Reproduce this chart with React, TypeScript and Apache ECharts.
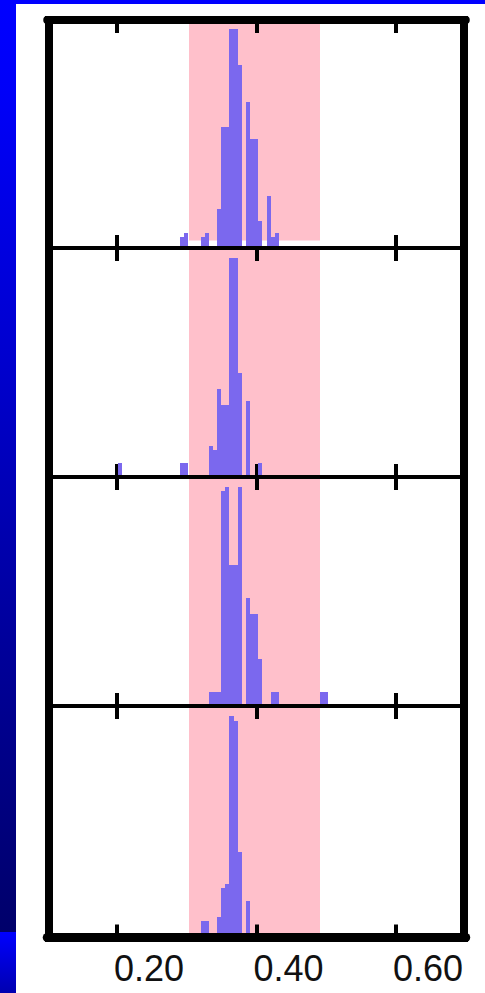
import React, { useEffect, useRef } from "react";
import * as echarts from "echarts";

// ---- axis ----
const X_MIN = 0.1;
const X_MAX = 0.7;
const TICK_VALUES = [0.2, 0.4, 0.6];

// ---- histogram bins (shared bin grid) ----
const BIN_START = 0.2903;
const BIN_WIDTH = 0.00591;

// highlighted (pink) interval on the x axis
const BAND = [0.303, 0.491];
const BAND_FLOOR_TOP_PANEL = 3.4;

// [bin index, relative frequency (% of tallest bin)] for each panel, top to bottom
const PANEL_1: [number, number][] = [
  [0, 5.0], [1, 6.8], [5, 5.0], [6, 6.8], [9, 17.8], [10, 55.3], [11, 55.3],
  [12, 100], [13, 100], [14, 83.6], [16, 66.7], [17, 49.8], [18, 49.8],
  [19, 12.3], [21, 23.7], [22, 5.0], [23, 6.8],
];
const PANEL_2: [number, number][] = [
  [-15, 6.4], [0, 6.4], [1, 6.4], [7, 14.2], [8, 12.3], [9, 40.2], [10, 32.9],
  [11, 32.9], [12, 100], [13, 100], [14, 47.5], [16, 34.7], [19, 6.4],
];
const PANEL_3: [number, number][] = [
  [7, 6.4], [8, 6.4], [9, 6.4], [10, 98.0], [11, 100], [12, 64.2], [13, 64.2],
  [14, 100], [16, 49.2], [17, 41.9], [18, 41.9], [19, 21.3], [22, 6.4],
  [23, 6.4], [34, 6.4], [35, 6.4],
];
const PANEL_4: [number, number][] = [
  [5, 6.3], [6, 6.3], [9, 8.1], [10, 21.3], [11, 23.2], [12, 100], [13, 97.6],
  [14, 37.8], [16, 15.4],
];
const PANELS = [PANEL_1, PANEL_2, PANEL_3, PANEL_4];
const PEAK_VALUE = 100;

// ---- layout / style ----
const W = 485;
const H = 993;
const PANEL_EDGES = [20, 248, 477, 706, 935];
const PEAK_PX = 219;
const GRID_LEFT = 47.25;
const GRID_RIGHT = 19.25;
const BAR_COLOR = "#7B68EE";
const BAND_COLOR = "#FFC0CB";
const LINE_GAP = 2;

export default function App() {
  const ref = useRef<HTMLDivElement>(null);

  useEffect(() => {
    if (!ref.current) return;
    const chart = echarts.init(ref.current, undefined, { renderer: "svg" });

    const grids: any[] = [];
    const xAxes: any[] = [];
    const yAxes: any[] = [];
    const series: any[] = [];

    PANELS.forEach((panel, i) => {
      const top = PANEL_EDGES[i];
      const height = PANEL_EDGES[i + 1] - PANEL_EDGES[i];
      const yMax = (PEAK_VALUE * height) / PEAK_PX;
      const isLast = i === PANELS.length - 1;
      grids.push({ left: GRID_LEFT, right: GRID_RIGHT, top, height, containLabel: false });

      const common = {
        type: "value",
        gridIndex: i,
        min: X_MIN,
        max: X_MAX,
        z: 2,
        splitLine: { show: false },
        axisTick: {
          show: true,
          inside: true,
          length: 13,
          customValues: TICK_VALUES,
          lineStyle: { color: "#000", width: 4 },
        },
      };
      // bottom axis
      xAxes.push({
        ...common,
        position: "bottom",
        offset: isLast ? 2.5 : 0,
        axisLine: { show: true, onZero: false, lineStyle: { color: "#000", width: isLast ? 9 : 4 } },
        axisLabel: isLast
          ? {
              show: true,
              customValues: TICK_VALUES,
              formatter: (v: number) => v.toFixed(2),
              align: "center",
              padding: [0, 0, 0, 64],
              margin: 13,
              fontSize: 36,
              fontFamily: "'Liberation Sans', Arial, sans-serif",
              color: "#111",
            }
          : { show: false },
      });
      // top axis
      xAxes.push({
        ...common,
        position: "top",
        axisLine: { show: true, onZero: false, lineStyle: { color: "#000", width: i === 0 ? 8 : 4 } },
        axisLabel: { show: false },
      });
      yAxes.push({ type: "value", gridIndex: i, min: 0, max: yMax, show: false });

      // pink band
      series.push({
        type: "custom",
        xAxisIndex: 2 * i,
        yAxisIndex: i,
        z: 1,
        silent: true,
        data: [[BAND[0], BAND[1], i === 0 ? BAND_FLOOR_TOP_PANEL : 0, yMax]],
        encode: { x: [0, 1], y: [2, 3] },
        renderItem: (params: any, api: any) => {
          const a = api.coord([api.value(0), api.value(3)]);
          const b = api.coord([api.value(1), api.value(2)]);
          const x0 = Math.round(a[0]);
          const x1 = Math.round(b[0]);
          return {
            type: "rect",
            shape: { x: x0, y: a[1], width: x1 - x0, height: b[1] - a[1] },
            style: { fill: BAND_COLOR },
          };
        },
      });

      // histogram bars
      series.push({
        type: "custom",
        xAxisIndex: 2 * i,
        yAxisIndex: i,
        z: 3,
        data: panel.map(([k, v]) => [BIN_START + k * BIN_WIDTH, BIN_START + (k + 1) * BIN_WIDTH, v]),
        encode: { x: [0, 1], y: 2 },
        renderItem: (params: any, api: any) => {
          const a = api.coord([api.value(0), api.value(2)]);
          const b = api.coord([api.value(1), 0]);
          const x0 = Math.round(a[0]);
          const x1 = Math.round(b[0]);
          const y0 = Math.round(a[1]);
          const y1 = Math.round(b[1] - LINE_GAP);
          return {
            type: "rect",
            shape: { x: x0, y: y0, width: x1 - x0, height: y1 - y0 },
            style: { fill: BAR_COLOR },
          };
        },
      });
    });

    chart.setOption({
      animation: false,
      backgroundColor: "#fff",
      grid: grids,
      xAxis: xAxes,
      yAxis: yAxes,
      series,
      graphic: [
        {
          type: "rect",
          z: 20,
          shape: { x: 0, y: 0, width: 16, height: 932 },
          style: {
            fill: {
              type: "linear",
              x: 0, y: 0, x2: 0, y2: 1,
              colorStops: [
                { offset: 0, color: "#0000FF" },
                { offset: 0.1, color: "#0000F8" },
                { offset: 0.4, color: "#0000CC" },
                { offset: 0.7, color: "#000099" },
                { offset: 1, color: "#00006A" },
              ],
            },
          },
        },
        {
          type: "rect",
          z: 20,
          shape: { x: 0, y: 932, width: 16, height: 61 },
          style: {
            fill: {
              type: "linear",
              x: 0, y: 0, x2: 0, y2: 1,
              colorStops: [
                { offset: 0, color: "#0000FF" },
                { offset: 1, color: "#0000B0" },
              ],
            },
          },
        },
        { type: "rect", z: 20, shape: { x: 0, y: 0, width: W, height: 4 }, style: { fill: "#0000FF" } },
        { type: "rect", z: 20, shape: { x: 45, y: 16, width: 8, height: 926 }, style: { fill: "#000" } },
        { type: "rect", z: 20, shape: { x: 460, y: 16, width: 8, height: 926 }, style: { fill: "#000" } },
      ],
    });

    return () => chart.dispose();
  }, []);

  return (
    <div
      ref={ref}
      style={{ position: "absolute", left: 0, top: 0, width: W, height: H, background: "#fff" }}
    />
  );
}
